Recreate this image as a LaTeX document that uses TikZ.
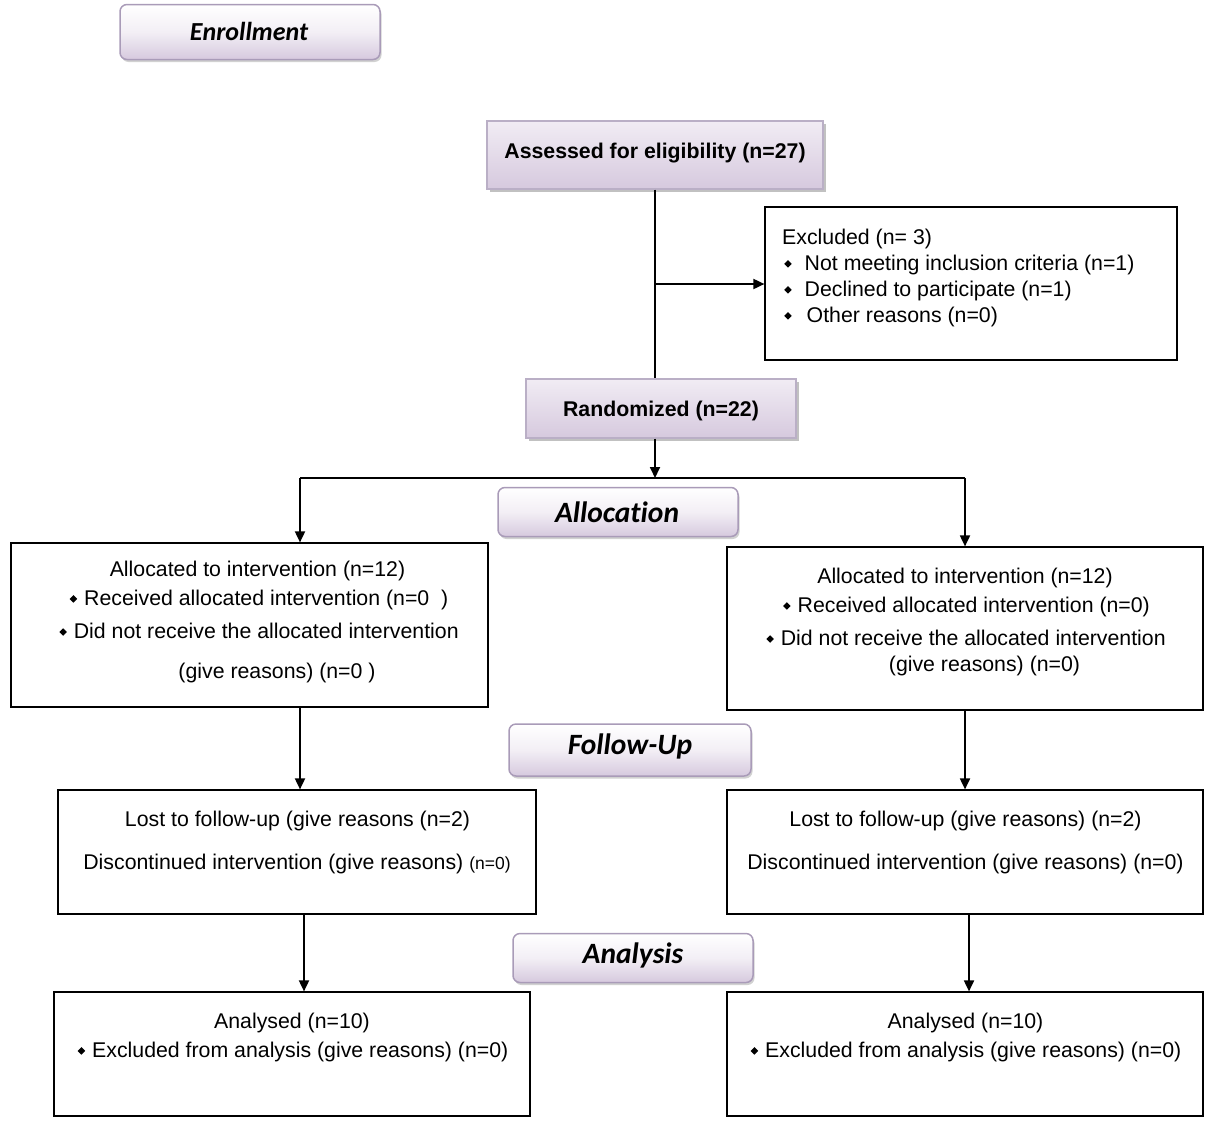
\documentclass[tikz,border=0pt]{standalone}
\usepackage{fontspec}
\usepackage{graphicx}
\setmainfont{Liberation Sans}
\newfontfamily\calib[Ligatures=NoCommon]{Carlito}
\usetikzlibrary{arrows.meta,shadows}
\definecolor{lav}{HTML}{D6C9DE}
\definecolor{lavlight}{HTML}{F1ECF4}
\definecolor{lavborder}{HTML}{A99BB8}
\newcommand\dbul{\raisebox{0.25ex}{\rotatebox{45}{\rule{0.25em}{0.25em}}}}
\tikzset{
  plainbox/.style={draw=black, line width=1.2pt, rectangle, inner sep=0pt},
  shadebox/.style={draw=lavborder!80!white, line width=1.2pt, rectangle, inner sep=0pt,
     top color=lavlight, bottom color=lav,
     drop shadow={shadow xshift=2.5pt, shadow yshift=-3pt, fill=gray!70, opacity=0.7}},
  phasebox/.style={draw=lavborder, line width=1.5pt, rounded corners=7pt, inner sep=0pt,
     top color=white, bottom color=lav, middle color=white!70!lav,
     drop shadow={shadow xshift=1.5pt, shadow yshift=-2.5pt, fill=gray!60, opacity=0.6}},
  txt/.style={inner sep=0pt, yshift=-2pt, font=\fontsize{21.3}{24}\selectfont},
  btxt/.style={inner sep=0pt, yshift=-2pt, font=\fontsize{21.3}{24}\selectfont\bfseries},
  ptxt/.style={inner sep=0pt, font=\fontsize{29.5}{32}\selectfont\calib\bfseries\itshape},
  conn/.style={line width=1.8pt},
  arr/.style={line width=1.8pt, -{Triangle[length=11pt,width=10pt]}},
}
\begin{document}
\begin{tikzpicture}[x=1pt,y=-1pt]
\useasboundingbox (0,0) rectangle (1214,1127);
% phase labels
\node[phasebox, minimum width=260pt, minimum height=55pt] (enr) at (250,32) {};
\node[ptxt, font=\fontsize{26}{29}\selectfont\calib\bfseries\itshape] (enrt) at (249,31) {Enrollment};
\node[phasebox, minimum width=240pt, minimum height=49pt] (allo) at (618,512) {};
\node[ptxt] (allot) at (617,512) {Allocation};
\node[phasebox, minimum width=242pt, minimum height=52pt] (fol) at (630,750) {};
\node[ptxt] (folt) at (630,746) {Follow-Up};
\node[phasebox, minimum width=240pt, minimum height=49pt] (ana) at (633,958) {};
\node[ptxt] (anat) at (633,955) {Analysis};
% main boxes
\node[shadebox, minimum width=336pt, minimum height=68pt] (ass) at (655,155) {};
\node[btxt] (asst) at (655,151) {Assessed for eligibility (n=27)};
\node[plainbox, minimum width=412pt, minimum height=153pt] (exc) at (971,283.5) {};
\node[txt, anchor=west] (exc1) at (782,237) {Excluded (n= 3)};
\node[txt, anchor=west] (exc2) at (784,263) {\dbul\hspace{13pt}Not meeting inclusion criteria (n=1)};
\node[txt, anchor=west] (exc3) at (784,289) {\dbul\hspace{13pt}Declined to participate (n=1)};
\node[txt, anchor=west] (exc4) at (784,315) {\dbul\hspace{15pt}Other reasons (n=0)};
\node[shadebox, minimum width=270pt, minimum height=59pt] (ran) at (661,408.5) {};
\node[btxt] (rant) at (661,409) {Randomized (n=22)};
% allocation boxes
\node[plainbox, minimum width=477pt, minimum height=164pt] (al) at (249.5,625) {};
\node[txt] (al1) at (257.5,569) {Allocated to intervention (n=12)};
\node[txt] (al2) at (259,598) {\dbul\hspace{7pt}Received allocated intervention (n=0\ \ )};
\node[txt] (al3) at (259,629) {\dbul\hspace{7pt}Did not receive the allocated intervention};
\node[txt] (al4) at (277,671) {(give reasons) (n=0 )};
\node[plainbox, minimum width=476pt, minimum height=163pt] (ar) at (965,628.5) {};
\node[txt] (ar1) at (965,576) {Allocated to intervention (n=12)};
\node[txt] (ar2) at (966.5,605) {\dbul\hspace{7pt}Received allocated intervention (n=0)};
\node[txt] (ar3) at (966,636) {\dbul\hspace{7pt}Did not receive the allocated intervention};
\node[txt] (ar4) at (984.5,664) {(give reasons) (n=0)};
% follow-up boxes
\node[plainbox, minimum width=478pt, minimum height=124pt] (fl) at (297,852) {};
\node[txt] (fl1) at (297.5,819) {Lost to follow-up (give reasons (n=2)};
\node[txt] (fl2) at (297,862) {Discontinued intervention (give reasons) {\fontsize{17.5}{20}\selectfont(n=0)}};
\node[plainbox, minimum width=476pt, minimum height=124pt] (fr) at (965,852) {};
\node[txt] (fr1) at (965.5,819) {Lost to follow-up (give reasons) (n=2)};
\node[txt] (fr2) at (965.5,862) {Discontinued intervention (give reasons) (n=0)};
% analysis boxes
\node[plainbox, minimum width=476pt, minimum height=124pt] (nl) at (292,1054) {};
\node[txt] (nl1) at (292,1021) {Analysed (n=10)};
\node[txt] (nl2) at (293,1050) {\dbul\hspace{7pt}Excluded from analysis (give reasons) (n=0)};
\node[plainbox, minimum width=476pt, minimum height=124pt] (nr) at (965,1054) {};
\node[txt] (nr1) at (965.5,1021) {Analysed (n=10)};
\node[txt] (nr2) at (966,1050) {\dbul\hspace{7pt}Excluded from analysis (give reasons) (n=0)};
% connectors
\coordinate (br) at (655,284);
\coordinate (split) at (655,478);
\coordinate (sl) at (300,478);
\coordinate (sr) at (965,478);
\draw[conn] (ass.south -| br) -- (ran.north -| br);
\draw[arr] (br) -- (exc.west |- br);
\draw[arr] (ran.south -| split) -- (split);
\draw[conn] (sl) -- (sr);
\draw[arr] (sl) -- (al.north -| sl);
\draw[arr] (sr) -- (ar.north -| sr);
\draw[arr] (al.south -| sl) -- (fl.north -| sl);
\draw[arr] (ar.south -| sr) -- (fr.north -| sr);
\coordinate (xl) at (304,0);
\coordinate (xr) at (969,0);
\draw[arr] (fl.south -| xl) -- (nl.north -| xl);
\draw[arr] (fr.south -| xr) -- (nr.north -| xr);
\end{tikzpicture}
\end{document}
